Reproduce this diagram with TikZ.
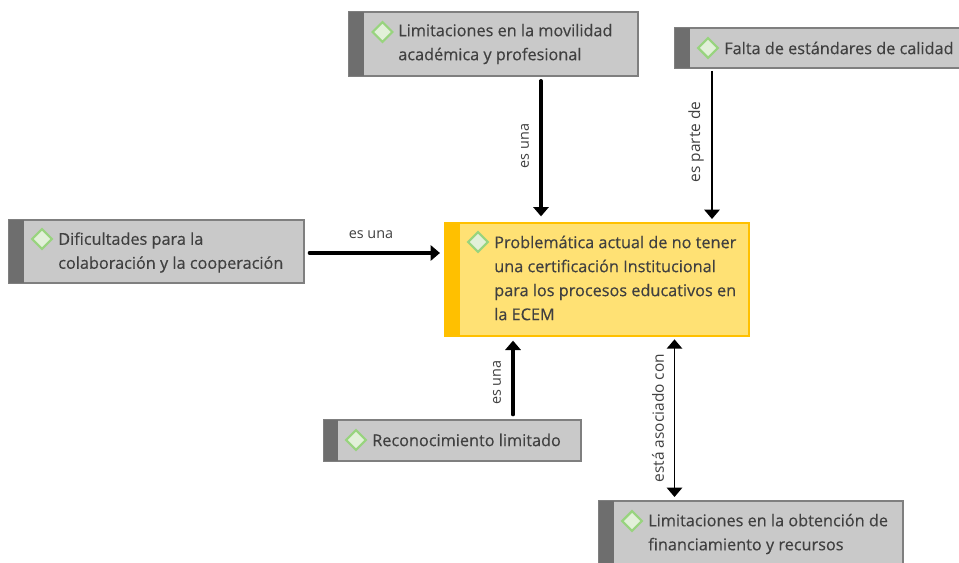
\documentclass[tikz,border=0pt]{standalone}
\usepackage{fontspec}
\setmainfont{Open Sans}
\newfontfamily\boxfont[FakeBold=0.35]{Open Sans}
\usetikzlibrary{shapes.geometric,arrows.meta}
\definecolor{txt}{HTML}{404040}
\definecolor{gfill}{HTML}{C9C9C9}
\definecolor{gbar}{HTML}{6E6E6E}
\definecolor{gline}{HTML}{7F7F7F}
\definecolor{yfill}{HTML}{FFE174}
\definecolor{ybarc}{HTML}{FFC000}
\definecolor{dfill}{HTML}{E2F0D9}
\definecolor{dline}{HTML}{98D47E}
\tikzset{
  boxbody/.style={rectangle,draw=gline,fill=gfill,line width=1pt,inner sep=0pt},
  boxbar/.style={rectangle,fill=gbar,inner sep=0pt},
  ybody/.style={rectangle,draw=ybarc,fill=yfill,line width=1pt,inner sep=0pt},
  ybar/.style={rectangle,fill=ybarc,inner sep=0pt},
  dmark/.style={diamond,draw=dline,fill=dfill,line width=1.7pt,inner sep=0pt,minimum width=15.5pt,minimum height=15.5pt},
  boxtext/.style={anchor=west,align=left,inner sep=0pt,text=txt,font=\boxfont\fontsize{12.2}{18}\selectfont},
  linklabel/.style={inner sep=0pt,text=txt,font=\fontsize{10.8}{12}\selectfont},
  linklong/.style={inner sep=0pt,text=txt,font=\fontsize{11.6}{12}\selectfont},
  conn/.style={line width=2.4pt,line cap=round,-{Triangle[length=7pt,width=11.5pt]}},
  connthin/.style={line width=1.4pt,-{Triangle[length=7pt,width=11.5pt]}},
  conntwo/.style={line width=1.4pt,{Triangle[length=7pt,width=11.5pt]}-{Triangle[length=7pt,width=11.5pt]}}
}
% name, x0, y0, x1, y1, bar end x, body style, bar style
\newcommand{\cbox}[8]{%
  \node[#7,minimum width={(#4-#2)*0.75pt},minimum height={(#5-#3)*0.75pt}] (#1) at ({(#2+#4)/2},{(#3+#5)/2}) {};
  \node[#8,minimum width={(#6-#2)*0.75pt},minimum height={(#5-#3)*0.75pt}] (#1bar) at ({(#2+#6)/2},{(#3+#5)/2}) {};
}
\begin{document}
\begin{tikzpicture}[x=0.75pt,y=-0.75pt]
\useasboundingbox (0,0) rectangle (959,563);
\clip (0,0) rectangle (959,563);
\cbox{top}{349}{12}{638}{76}{364}{boxbody}{boxbar}
\cbox{falta}{675}{28}{962}{68}{690}{boxbody}{boxbar}
\cbox{dif}{9}{220}{304}{283}{24}{boxbody}{boxbar}
\cbox{main}{445}{223}{749}{336}{460}{ybody}{ybar}
\cbox{rec}{324}{420}{581}{461}{338}{boxbody}{boxbar}
\cbox{fin}{599}{501}{903}{570}{614}{boxbody}{boxbar}

\node[dmark] (mtop) at (382.5,32) {};
\node[dmark] (mfalta) at (708,48) {};
\node[dmark] (mdif) at (42,239) {};
\node[dmark] (mmain) at (478,242) {};
\node[dmark] (mrec) at (356,440) {};
\node[dmark] (mfin) at (632,521) {};

\node[boxtext] (ttop) at (398,44) {Limitaciones en la movilidad\\académica y profesional};
\node[boxtext] (tfalta) at (724,48) {Falta de estándares de calidad};
\node[boxtext] (tdif) at (58,252.5) {Dificultades para la\\colaboración y la cooperación};
\node[boxtext] (tmain) at (494,278) {Problemática actual de no tener\\una certificación Institucional\\para los procesos educativos en\\la ECEM};
\node[boxtext] (trec) at (372,440) {Reconocimiento limitado};
\node[boxtext] (tfin) at (648,534) {Limitaciones en la obtención de\\financiamiento y recursos};

\draw[conn,shorten <=3pt,shorten >=4.5pt] (top.south -| 541,0) -- (main.north -| 541,0);
\draw[connthin,shorten <=1.6pt,shorten >=2.5pt] (falta.south -| 712,0) -- (main.north -| 712,0);
\draw[conn,shorten <=3.5pt,shorten >=3.3pt] (dif.east |- 0,253) -- (main.west |- 0,253);
\draw[conn,shorten <=3.5pt,shorten >=3pt] (rec.north -| 513,0) -- (main.south -| 513,0);
\draw[conntwo,shorten <=2.5pt,shorten >=2pt] (fin.north -| 674.5,0) -- (main.south -| 674.5,0);

\node[linklabel,rotate=90] (l1) at (525,146) {es una};
\node[linklong,rotate=90] (l2) at (696,142) {es parte de};
\node[linklabel] (l3) at (371,235) {es una};
\node[linklabel,rotate=90] (l4) at (497,382.5) {es una};
\node[linklong,rotate=90] (l5) at (658,418) {está asociado con};
\end{tikzpicture}
\end{document}
